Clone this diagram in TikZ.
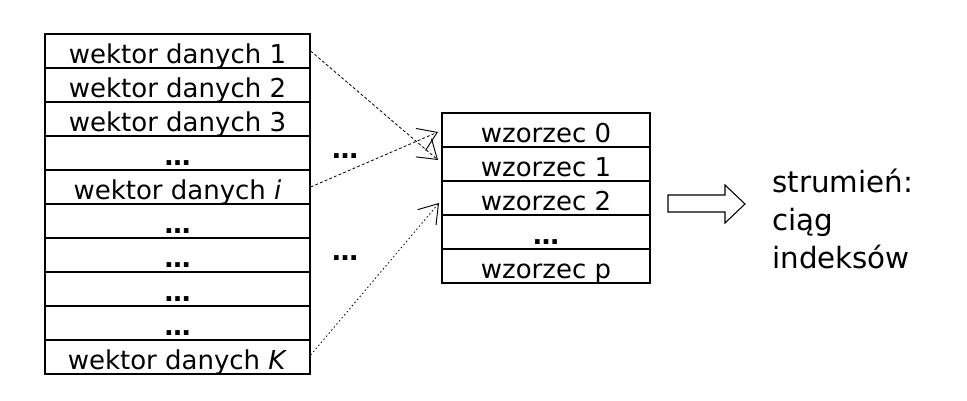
\documentclass[tikz,border=0pt]{standalone}
\usepackage{fontspec}
\setmainfont{DejaVu Sans}
\usetikzlibrary{arrows.meta}
\newcommand{\bdots}{\textbf{\dots}}
\begin{document}
\begin{tikzpicture}[x=0.75pt,y=-0.75pt,
  cell/.style={draw=black,line width=1pt,rectangle,inner sep=0pt,
    minimum height=25.5pt,text height=21.75pt,text depth=3.75pt,
    font=\fontsize{19.5}{23}\selectfont},
  lcell/.style={cell,minimum width=198.75pt},
  mcell/.style={cell,minimum width=156pt},
  dotsl/.style={font=\fontsize{19.5}{23}\selectfont,inner sep=0pt,anchor=base},
  conn/.style={line width=0.6pt,-{Straight Barb[length=13.5pt,width=18pt,line width=0.7pt]}},
  dsh/.style={conn,dash pattern=on 2.2pt off 1.6pt},
  dtt/.style={conn,dash pattern=on 1.1pt off 1.9pt}]
\useasboundingbox (0,0) rectangle (967,400);
% left column
\foreach \t [count=\k] in {wektor danych 1,wektor danych 2,wektor danych 3,\bdots,wektor danych \textit{i},\bdots,\bdots,\bdots,\bdots,wektor danych \textit{K}}{
  \node[lcell] (r\k) at (177.5,{51+34*(\k-1)}) {\t};
}
% middle column
\foreach \t [count=\k] in {wzorzec 0,wzorzec 1,wzorzec 2,\bdots,wzorzec p}{
  \node[mcell] (w\k) at (546,{130+34*(\k-1)}) {\t};
}
% ellipses between columns
\node[dotsl] (d1) at (345,158) {\bdots};
\node[dotsl] (d2) at (345,260) {\bdots};
% connectors
\coordinate (t1) at (438,160);
\coordinate (t2) at (438,132);
\coordinate (t3) at (439,203);
\draw[dsh] (r1.east) -- (t1);
\draw[dsh] (r5.east) -- (t2);
\draw[dtt] ([yshift=1.5pt]r10.east) -- (t3);
% hollow arrow
\draw[line width=0.8pt] (668,195) -- (725,195) -- (725,185) -- (745,204) -- (725,223) -- (725,212) -- (668,212) -- cycle;
% right text
\node[anchor=base west,inner sep=0pt,align=left,font=\fontsize{22}{28.5}\selectfont] (out) at (772,268) {strumień:\\ciąg\\indeksów};
\end{tikzpicture}
\end{document}
